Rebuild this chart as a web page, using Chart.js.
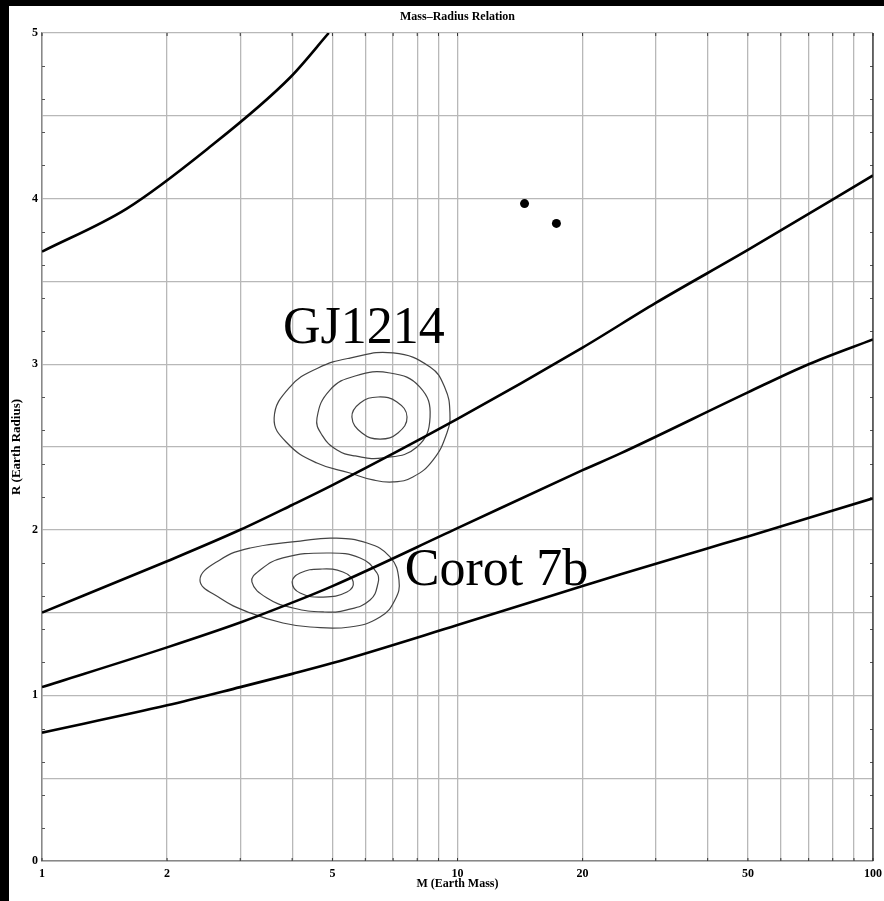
<!DOCTYPE html>
<html>

<head>
    <style>
        body { margin: 0; background: #000; overflow: hidden; }
        #massChart { position: absolute; left: 9px; top: 6px; }
    </style>
</head>
<script src="https://cdn.jsdelivr.net/npm/chart.js@4.4.0/dist/chart.umd.min.js"></script>

<body>
    <canvas id="massChart" width="875" height="895"></canvas>
</body>

<script>
    // model curves (mass in Earth masses, radius in Earth radii)
    var curve1Mass = [1, 1.6, 2.5, 3.95, 4.9];
    var curve1Radius = [3.68, 3.94, 4.3, 4.73, 5.0];
    var curve2Mass = [1, 2, 3, 4, 5, 10, 20, 30, 50, 100];
    var curve2Radius = [1.5, 1.81, 2.0, 2.15, 2.27, 2.67, 3.10, 3.37, 3.69, 4.14];
    var curve3Mass = [1, 2, 3, 4, 5, 10, 20, 24.6, 50, 70, 100];
    var curve3Radius = [1.05, 1.29, 1.44, 1.56, 1.66, 2.01, 2.36, 2.46, 2.83, 3.0, 3.15];
    var curve4Mass = [1, 2, 3, 4, 5, 10, 20, 24.6, 39, 50, 100];
    var curve4Radius = [0.775, 0.94, 1.05, 1.13, 1.195, 1.425, 1.66, 1.73, 1.88, 1.96, 2.19];

    // two planets
    var dotMass = [14.5, 17.3];
    var dotRadius = [3.97, 3.85];

    // GJ1214 contours
    var gjOuterMass = [3.62, 3.95, 4.62, 5.51, 7.00, 8.59, 9.33, 9.59, 9.43, 8.73, 7.81, 7.00, 6.26, 5.51, 4.59, 3.89];
    var gjOuterRadius = [2.675, 2.862, 2.977, 3.037, 3.068, 2.983, 2.856, 2.705, 2.585, 2.421, 2.319, 2.289, 2.301, 2.343, 2.403, 2.524];
    var gjMidMass = [4.59, 4.93, 5.67, 6.88, 8.12, 8.59, 7.99, 6.62, 5.67, 5.13, 4.72];
    var gjMidRadius = [2.675, 2.844, 2.929, 2.947, 2.862, 2.681, 2.5, 2.434, 2.446, 2.482, 2.572];
    var gjInnerMass = [5.57, 5.83, 6.44, 7.15, 7.56, 7.19, 6.51, 5.89];
    var gjInnerRadius = [2.681, 2.766, 2.802, 2.772, 2.681, 2.585, 2.548, 2.585];

    // Corot 7b contours
    var coOuterMass = [2.40, 2.68, 3.17, 4.18, 5.02, 6.06, 6.88, 7.23, 7.07, 6.51, 5.51, 4.42, 3.80, 3.17, 2.68];
    var coOuterRadius = [1.697, 1.818, 1.890, 1.932, 1.950, 1.920, 1.836, 1.697, 1.576, 1.473, 1.413, 1.413, 1.437, 1.498, 1.588];
    var coMidMass = [3.20, 3.35, 3.80, 4.85, 5.83, 6.40, 6.44, 6.16, 5.42, 4.75, 4.02, 3.48];
    var coMidRadius = [1.685, 1.757, 1.830, 1.860, 1.830, 1.739, 1.679, 1.576, 1.516, 1.504, 1.528, 1.588];
    var coInnerMass = [4.00, 4.18, 4.67, 5.30, 5.61, 5.42, 4.75, 4.18];
    var coInnerRadius = [1.685, 1.739, 1.763, 1.745, 1.685, 1.624, 1.594, 1.618];

    // axis ticks
    var xGridValues = [1, 2, 3, 4, 5, 6, 7, 8, 9, 10, 20, 30, 40, 50, 60, 70, 80, 90, 100];
    var xLabelValues = [1, 2, 5, 10, 20, 50, 100];
    var yMinorTicks = [0.2, 0.4, 0.6, 0.8, 1.2, 1.4, 1.6, 1.8, 2.2, 2.4, 2.6, 2.8, 3.2, 3.4, 3.6, 3.8, 4.2, 4.4, 4.6, 4.8];

    // text labels: [text, mass, radius] (left / baseline)
    var planetLabels = [["GJ1214", 3.80, 3.128], ["Corot 7b", 7.47, 1.667]];

    function toPoints(xs, ys) {
        return xs.map(function (m, i) { return { x: m, y: ys[i] }; });
    }

    function curveSet(xs, ys) {
        return {
            data: toPoints(xs, ys), showLine: true, borderColor: "#000", borderWidth: 2.6,
            pointRadius: 0, cubicInterpolationMode: "monotone", order: 1
        };
    }

    // closed loop: wrap one point on each side and hide the two wrap segments,
    // so every visible piece of the spline has neighbours on both sides
    function contourSet(xs, ys) {
        var pts = toPoints(xs, ys);
        var n = pts.length;
        var loop = [pts[n - 1]].concat(pts, [pts[0], pts[1]]);
        var last = loop.length - 1;
        return {
            data: loop, showLine: true, borderColor: "#444", borderWidth: 1.2,
            pointRadius: 0, tension: 0.45, order: 2,
            segment: {
                borderColor: function (s) {
                    return (s.p0DataIndex === 0 || s.p1DataIndex === last) ? "rgba(0,0,0,0)" : "#444";
                }
            }
        };
    }

    var serif = "'Liberation Serif', 'Times New Roman', serif";

    var paperPlugin = {
        id: "paper",
        beforeDraw: function (chart) {
            var c = chart.ctx;
            c.save();
            c.fillStyle = "#fff";
            c.fillRect(0, 0, chart.width, chart.height);
            c.restore();
        },
        afterDraw: function (chart) {
            var c = chart.ctx;
            var xs = chart.scales.x, ys = chart.scales.y;
            var a = chart.chartArea;
            c.save();
            // minor ticks on left and right
            c.strokeStyle = "#555";
            c.lineWidth = 1;
            yMinorTicks.forEach(function (v) {
                var py = Math.round(ys.getPixelForValue(v)) + 0.5;
                c.beginPath();
                c.moveTo(a.left, py); c.lineTo(a.left + 3, py);
                c.moveTo(a.right, py); c.lineTo(a.right - 3, py);
                c.stroke();
            });
            // ticks on top and bottom
            c.strokeStyle = "#333";
            xGridValues.forEach(function (v) {
                var px = xs.getPixelForValue(v);
                c.beginPath();
                c.moveTo(px, a.top); c.lineTo(px, a.top + 3);
                c.moveTo(px, a.bottom); c.lineTo(px, a.bottom - 3);
                c.stroke();
            });
            // dark right edge
            c.strokeStyle = "#222";
            c.lineWidth = 1.2;
            c.beginPath();
            c.moveTo(a.right, a.top); c.lineTo(a.right, a.bottom);
            c.stroke();
            // big labels
            c.fillStyle = "#000";
            c.font = "52px " + serif;
            c.textBaseline = "alphabetic";
            c.textAlign = "left";
            planetLabels.forEach(function (l) {
                c.fillText(l[0], xs.getPixelForValue(l[1]), ys.getPixelForValue(l[2]));
            });
            c.restore();
        }
    };

    var tickFont = { family: serif, size: 12, weight: "bold" };

    var ctx = document.getElementById("massChart").getContext("2d");
    var massChart = new Chart(ctx, {
        type: "scatter",
        data: {
            datasets: [
                curveSet(curve1Mass, curve1Radius),
                curveSet(curve2Mass, curve2Radius),
                curveSet(curve3Mass, curve3Radius),
                curveSet(curve4Mass, curve4Radius),
                contourSet(gjOuterMass, gjOuterRadius),
                contourSet(gjMidMass, gjMidRadius),
                contourSet(gjInnerMass, gjInnerRadius),
                contourSet(coOuterMass, coOuterRadius),
                contourSet(coMidMass, coMidRadius),
                contourSet(coInnerMass, coInnerRadius),
                {
                    data: toPoints(dotMass, dotRadius), pointRadius: 4.5,
                    pointBackgroundColor: "#000", pointBorderWidth: 0, order: 0
                }
            ]
        },
        options: {
            responsive: false,
            animation: false,
            layout: { padding: { left: 0, top: 0, right: 11, bottom: 0 } },
            plugins: {
                legend: { display: false },
                tooltip: { enabled: false },
                title: {
                    display: true,
                    text: "Mass\u2013Radius Relation",
                    fullSize: false,
                    color: "#000",
                    font: { family: serif, size: 12, weight: "bold", lineHeight: 1.2 },
                    padding: { top: 3.5, bottom: 9.1 }
                }
            },
            scales: {
                x: {
                    type: "logarithmic",
                    min: 1,
                    max: 100,
                    afterBuildTicks: function (scale) {
                        scale.ticks = xGridValues.map(function (v) { return { value: v }; });
                    },
                    afterFit: function (scale) {
                        scale.height = 40;
                        scale.paddingLeft = 0;
                        scale.paddingRight = 0;
                    },
                    ticks: {
                        autoSkip: false, maxRotation: 0, padding: 6, color: "#000", font: tickFont,
                        callback: function (v) { return xLabelValues.indexOf(v) >= 0 ? String(v) : ""; }
                    },
                    grid: { color: "#b8b8b8", lineWidth: 1.3, drawTicks: false },
                    border: { color: "#888", width: 1.5 },
                    title: {
                        display: true, text: "M (Earth Mass)", color: "#000",
                        font: { family: serif, size: 12, weight: "bold", lineHeight: 1.2 },
                        padding: { top: 0, bottom: 10 }
                    }
                },
                y: {
                    min: 0,
                    max: 5,
                    afterFit: function (scale) { scale.width = 33; },
                    ticks: {
                        stepSize: 0.5, autoSkip: false, padding: 4, color: "#000", font: tickFont,
                        callback: function (v) { return Number.isInteger(v) ? String(v) : ""; }
                    },
                    grid: { color: "#b8b8b8", lineWidth: 1.3, drawTicks: false },
                    border: { color: "#888", width: 1.5 },
                    title: {
                        display: true, text: "R (Earth Radius)", color: "#000",
                        font: { family: serif, size: 13, weight: "bold", lineHeight: 1.2 },
                        padding: { top: 0, bottom: 0 }
                    }
                }
            }
        },
        plugins: [paperPlugin]
    });
</script>

</html>
